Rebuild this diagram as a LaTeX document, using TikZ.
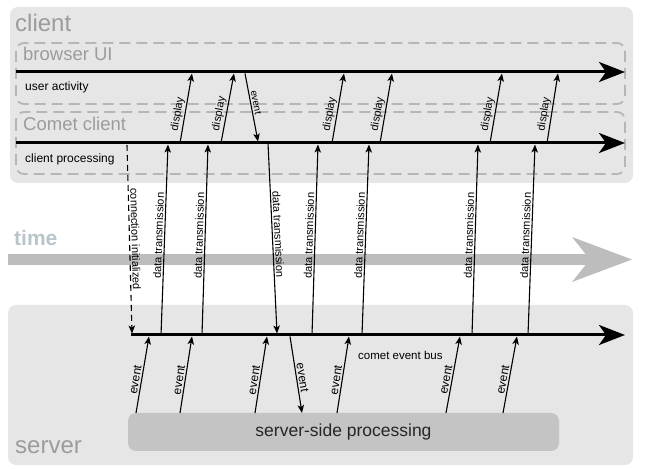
\documentclass[tikz,border=0pt]{standalone}
\usepackage{fontspec}
\setmainfont{Liberation Sans}
\usetikzlibrary{arrows.meta}
\definecolor{boxbg}{HTML}{E6E6E6}
\definecolor{dashgray}{HTML}{B6B6B6}
\definecolor{labgray}{HTML}{9C9C9C}
\definecolor{timegray}{HTML}{BDBDBD}
\definecolor{timetext}{HTML}{B8C6CB}
\definecolor{procgray}{HTML}{C4C4C4}
\tikzset{
  region/.style={fill=boxbg, draw=none, rounded corners=8pt},
  lanebox/.style={draw=dashgray, line width=1.8pt, dash pattern=on 11pt off 6pt, rounded corners=8pt},
  biglabel/.style={font=\fontsize{24}{26}\selectfont, text=labgray, anchor=west, inner sep=0pt},
  lanelabel/.style={font=\fontsize{18.5}{20}\selectfont, text=labgray, anchor=west, inner sep=0pt},
  smalllabel/.style={font=\fontsize{12}{14}\selectfont, anchor=west, inner sep=0pt},
  timeline/.style={line width=3pt, -{Stealth[length=26pt,width=20pt,inset=7pt]}},
  msg/.style={line width=1.1pt, -{Stealth[length=8pt,width=6.5pt,inset=2pt]}},
  lab/.style={font=\fontsize{11}{13}\selectfont, sloped, above, inner sep=1.5pt},
  evlab/.style={font=\fontsize{12}{14}\selectfont, sloped, above, inner sep=1.5pt},
  procbox/.style={fill=procgray, rounded corners=8pt, minimum width=431pt, minimum height=38pt, font=\fontsize{17.5}{20}\selectfont, text=black!85},
}
\begin{document}
\begin{tikzpicture}[x=1pt,y=-1pt]
\useasboundingbox (0,0) rectangle (646,470);
% regions
\fill[region] (10,7) rectangle (633,183);
\fill[region] (8,305) rectangle (633,465);
\node[biglabel] (clientlab) at (15,23) {client};
\node[biglabel] (serverlab) at (15,447) {server};
% lanes
\draw[lanebox] (16,43) rectangle (625,104);
\draw[lanebox] (16,112) rectangle (625,174);
\node[lanelabel] (bui) at (23,54) {browser UI};
\node[lanelabel] (ccl) at (23,124) {Comet client};
\node[smalllabel] (ua) at (25,87) {user activity};
\node[smalllabel] (cp) at (25,159) {client processing};
% time arrow
\fill[timegray] (8,254) rectangle (590,265);
\fill[timegray] (572,237) -- (632,259.5) -- (572,282) -- (590,259.5) -- cycle;
\node[font=\bfseries\fontsize{21}{24}\selectfont, text=timetext, anchor=west, inner sep=0pt] (timelab) at (14,238) {time};
% processing box
\node[procbox] (proc) at (343.5,432) {server-side processing};
% coordinates of lines
\coordinate (uaS) at (16,72);   \coordinate (uaE) at (625,72);
\coordinate (cpS) at (16,143);  \coordinate (cpE) at (625,143);
\coordinate (busS) at (131,335); \coordinate (busE) at (625,335);
% display arrows
\foreach \i/\a/\b in {1/180/192, 2/221/234, 3/332/344, 4/380/392, 5/490/502, 6/547/558}{
  \coordinate (dA\i) at (\a,143);
  \coordinate (dB\i) at (\b,73.5);
  \draw[msg] (dA\i) -- node[lab, pos=0.4] {display} (dB\i);
}
% event from UI to client
\coordinate (eA) at (245,73.5);
\coordinate (eB) at (258,141.5);
\draw[msg] (eA) -- node[lab, pos=0.44, font=\fontsize{10}{12}\selectfont] {event} (eB);
% data transmission up
\foreach \i/\a/\b in {1/161/168, 2/202/208, 3/312/318, 4/362/369, 5/472/478, 6/528/535}{
  \coordinate (tA\i) at (\a,335);
  \coordinate (tB\i) at (\b,144.5);
  \draw[msg] (tA\i) -- node[lab, pos=0.52] {data transmission} (tB\i);
}
% data transmission down
\coordinate (tdA) at (268,143);
\coordinate (tdB) at (277,333.5);
\draw[msg] (tdA) -- node[lab, pos=0.48] {data transmission} (tdB);
% connection initialized
\coordinate (ciA) at (127,145);
\coordinate (ciB) at (132,333.5);
\draw[msg, dash pattern=on 6pt off 4pt] (ciA) -- node[lab, pos=0.5] {connection initialized} (ciB);
% server events up
\foreach \i/\a/\b in {1/136/149, 2/180/192, 3/255/267, 4/337/349, 5/446/460, 6/503/517}{
  \coordinate (sA\i) at (\a,413);
  \coordinate (sB\i) at (\b,336.5);
  \draw[msg] (sA\i) -- node[evlab, pos=0.42] {event} (sB\i);
}
% server event down
\coordinate (sdA) at (290,336.5);
\coordinate (sdB) at (302,413);
\draw[msg] (sdA) -- node[evlab, pos=0.55] {event} (sdB);
% main lines
\draw[timeline] (uaS) -- (uaE);
\draw[timeline] (cpS) -- (cpE);
\draw[timeline] (busS) -- (busE);
\node[smalllabel, font=\fontsize{11.5}{13}\selectfont] (bus) at (358,355) {comet event bus};
\end{tikzpicture}
\end{document}
